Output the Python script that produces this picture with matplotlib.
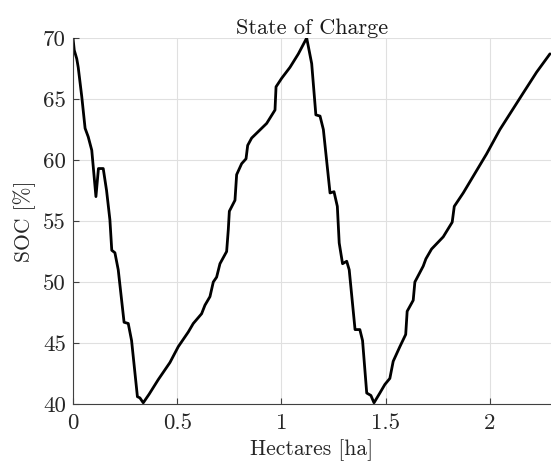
import matplotlib
matplotlib.use('Agg')
import matplotlib.pyplot as plt

# SOC trace
hectares = [0.000, 0.006, 0.018, 0.025, 0.042, 0.058, 0.073, 0.090, 0.110, 0.122,
            0.145, 0.161, 0.177, 0.186, 0.201, 0.217, 0.245, 0.265, 0.281, 0.309,
            0.321, 0.337, 0.365, 0.409, 0.465, 0.505, 0.553, 0.577, 0.617, 0.633,
            0.657, 0.673, 0.689, 0.705, 0.737, 0.745, 0.750, 0.777, 0.785, 0.809,
            0.830, 0.838, 0.857, 0.881, 0.929, 0.969, 0.974, 1.001, 1.041, 1.081,
            1.121, 1.145, 1.165, 1.185, 1.201, 1.233, 1.252, 1.268, 1.277, 1.293,
            1.313, 1.325, 1.353, 1.376, 1.389, 1.409, 1.429, 1.444, 1.472, 1.496,
            1.520, 1.536, 1.568, 1.596, 1.603, 1.632, 1.640, 1.680, 1.693, 1.720,
            1.776, 1.819, 1.829, 1.872, 1.928, 1.984, 2.048, 2.104, 2.160, 2.224,
            2.288]
soc = [70.0, 69.0, 68.3, 67.6, 65.2, 62.6, 61.9, 60.8, 57.0, 59.3,
       59.3, 57.5, 55.1, 52.6, 52.4, 51.0, 46.7, 46.6, 45.2, 40.6,
       40.5, 40.1, 40.8, 42.0, 43.4, 44.7, 45.9, 46.6, 47.4, 48.1,
       48.8, 50.0, 50.4, 51.5, 52.5, 54.3, 55.8, 56.7, 58.8, 59.7,
       60.1, 61.2, 61.8, 62.2, 63.0, 64.1, 66.0, 66.7, 67.6, 68.7,
       70.0, 67.9, 63.7, 63.6, 62.5, 57.3, 57.4, 56.2, 53.2, 51.5,
       51.7, 51.0, 46.1, 46.1, 45.2, 40.9, 40.7, 40.1, 40.9, 41.6,
       42.1, 43.5, 44.7, 45.7, 47.6, 48.5, 50.0, 51.3, 51.9, 52.7,
       53.7, 54.9, 56.2, 57.3, 58.9, 60.5, 62.5, 64.0, 65.5, 67.2,
       68.7]

x_ticks = [0, 0.5, 1, 1.5, 2]
x_tick_labels = ['0', '0.5', '1', '1.5', '2']
y_ticks = [40, 45, 50, 55, 60, 65, 70]

plt.rcParams['font.family'] = ['cmr10', 'DejaVu Serif']
plt.rcParams['mathtext.fontset'] = 'cm'
plt.rcParams['axes.formatter.use_mathtext'] = True

fig = plt.figure(figsize=(5.51, 4.65), dpi=100)
ax = fig.add_axes([73 / 551, 61 / 465, 1 - 73 / 551, 366 / 465])

ax.plot(hectares, soc, color='black', linewidth=2.0,
        solid_joinstyle='round', solid_capstyle='round')

ax.set_xlim(0, 2.293)
ax.set_ylim(40, 70)
ax.set_xticks(x_ticks)
ax.set_xticklabels(x_tick_labels)
ax.set_yticks(y_ticks)
ax.set_yticklabels([str(v) for v in y_ticks])

ax.grid(True, color='0.88', linewidth=0.8)
ax.set_axisbelow(True)
for side in ['top', 'right']:
    ax.spines[side].set_visible(False)
for side in ['left', 'bottom']:
    ax.spines[side].set_color('0.25')
    ax.spines[side].set_linewidth(0.8)
ax.tick_params(direction='in', length=4, width=0.8, color='0.25',
               labelsize=16.5, labelcolor='0.15')
ax.tick_params(axis='x', pad=7)
ax.tick_params(axis='y', pad=5)

ax.set_xlabel('Hectares [ha]', fontsize=15.5, color='0.15', labelpad=4)
ax.set_ylabel('SOC [%]', fontsize=15.5, color='0.15', labelpad=5)
ax.set_title('State of Charge', fontsize=16, color='0.1', pad=3)

fig.savefig('out.png', dpi=100)
